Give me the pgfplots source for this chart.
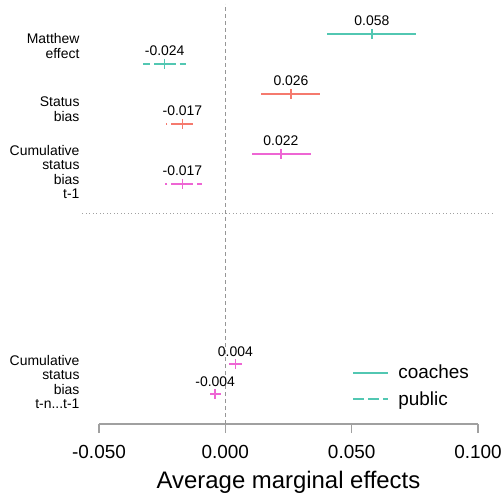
\documentclass[border=0pt]{standalone}
\usepackage{fontspec}
\setmainfont{Liberation Sans}
\usepackage{pgfplots}
\pgfplotsset{compat=1.18}
\definecolor{cteal}{RGB}{82,199,178}
\definecolor{csalmon}{RGB}{245,122,110}
\definecolor{cpink}{RGB}{238,102,212}
\definecolor{cgray}{RGB}{160,160,160}
\definecolor{dgray}{RGB}{150,150,150}
\newcommand{\tdots}{.\kern0pt.\kern0pt.}
\pgfplotsset{
  base/.style={color=#1, only marks, mark=|, mark size=5bp,
    mark options={solid, line width=1.5bp},
    nodes near coords, point meta=explicit symbolic,
    nodes near coords style={font=\fontsize{14}{16}\selectfont, text=black, anchor=base, yshift=8bp},
    forget plot},
  coach/.style={base=#1,
    error bars/.cd, x dir=both, x explicit, error mark=none,
    error bar style={line width=2bp, solid, color=#1}},
  pub/.style={base=#1,
    error bars/.cd, x dir=both, x explicit, error mark=none,
    error bar style={line width=2bp, dash pattern=on 11bp off 4bp, color=#1}},
}
\begin{document}
\begin{tikzpicture}
\useasboundingbox (-99bp,-71bp) rectangle (405bp,424bp);
\begin{axis}[
  at={(0,0)}, anchor=south west,
  scale only axis, width=379bp, height=420bp,
  xmin=-0.05, xmax=0.1, ymin=-1, ymax=13,
  clip=false,
  axis lines*=left,
  y axis line style={draw=none},
  x axis line style={cgray, line width=1.2bp},
  ytick style={draw=none},
  xtick style={cgray, line width=1.2bp},
  tick align=outside, major tick length=9bp,
  xtick={-0.05,0,0.05,0.1},
  xticklabels={-0.050,0.000,0.050,0.100},
  xticklabel style={font=\fontsize{19}{22}\selectfont, text=black, yshift=-9bp},
  ytick={0.4,7.4,9.5,11.6},
  yticklabels={{Cumulative\\status\\bias\\t-n\tdots t-1},{Cumulative\\status\\bias\\t-1},{Status\\bias},{Matthew\\effect}},
  yticklabel style={font=\fontsize{14}{14.5}\selectfont, align=right, text=black, xshift=-7bp},
  xlabel={Average marginal effects},
  xlabel style={font=\fontsize{24}{28}\selectfont, at={(axis description cs:0.5,0)}, anchor=center, yshift=-58bp},
  legend style={at={(axis description cs:0.66,0.15)}, anchor=north west, draw=none, fill=none,
    font=\fontsize{19}{22}\selectfont, row sep=7bp},
  legend cell align=left,
  legend image code/.code={\draw[#1] (0bp,0bp) -- (35bp,0bp); \path (42bp,0bp);},
]
\addlegendimage{cteal, line width=2bp}
\addlegendentry{coaches}
\addlegendimage{cteal, line width=2bp, dash pattern=on 11bp off 4bp}
\addlegendentry{public}

\addplot[dgray, line width=1.5bp, dash pattern=on 4bp off 3bp, forget plot] coordinates {(0,-1) (0,13)};
\addplot[cgray, line width=1bp, dash pattern=on 1bp off 2.5bp, forget plot] coordinates {(-0.0566,6) (0.1057,6)};

% Matthew effect
\addplot[coach=cteal] table[x=x,y=y,x error minus=em,x error plus=ep,meta=lab,row sep=\\] {
x y em ep lab\\ 0.058 12 0.0176 0.0174 0.058\\};
\addplot[pub=cteal] table[x=x,y=y,x error minus=em,x error plus=ep,meta=lab,row sep=\\] {
x y em ep lab\\ -0.024 11 0.0085 0.0083 -0.024\\};
% Status bias
\addplot[coach=csalmon] table[x=x,y=y,x error minus=em,x error plus=ep,meta=lab,row sep=\\] {
x y em ep lab\\ 0.026 10 0.0118 0.0115 0.026\\};
\addplot[pub=csalmon] table[x=x,y=y,x error minus=em,x error plus=ep,meta=lab,row sep=\\] {
x y em ep lab\\ -0.017 9 0.0065 0.0041 -0.017\\};
% Cumulative status bias t-1
\addplot[coach=cpink] table[x=x,y=y,x error minus=em,x error plus=ep,meta=lab,row sep=\\] {
x y em ep lab\\ 0.022 8 0.0113 0.0118 0.022\\};
\addplot[pub=cpink] table[x=x,y=y,x error minus=em,x error plus=ep,meta=lab,row sep=\\] {
x y em ep lab\\ -0.017 7 0.0069 0.0079 -0.017\\};
% Cumulative status bias t-n...t-1
\addplot[coach=cpink] table[x=x,y=y,x error minus=em,x error plus=ep,meta=lab,row sep=\\] {
x y em ep lab\\ 0.004 1 0.0026 0.0026 0.004\\};
\addplot[pub=cpink] table[x=x,y=y,x error minus=em,x error plus=ep,meta=lab,row sep=\\] {
x y em ep lab\\ -0.004 0 0.0022 0.0022 -0.004\\};
\end{axis}
\end{tikzpicture}
\end{document}
